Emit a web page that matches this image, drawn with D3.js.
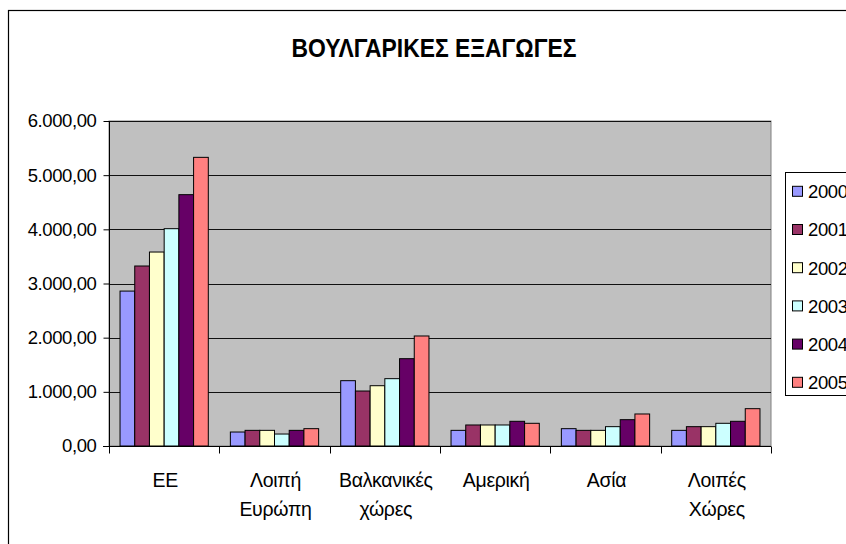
<!DOCTYPE html>
<html>
<head>
<meta charset="utf-8">
<script src="https://cdn.jsdelivr.net/npm/d3@7"></script>
<style>
  html, body { margin: 0; padding: 0; background: #fff; }
  svg { display: block; }
  text { font-family: "Liberation Sans", Arial, sans-serif; fill: #000; }
</style>
</head>
<body>
<svg id="chart" width="846" height="544"></svg>
<script>
const title = "ΒΟΥΛΓΑΡΙΚΕΣ ΕΞΑΓΩΓΕΣ";
const categories = ["ΕΕ", "Λοιπή Ευρώπη", "Βαλκανικές χώρες", "Αμερική", "Ασία", "Λοιπές Χώρες"];
const years = ["2000", "2001", "2002", "2003", "2004", "2005"];
const s2000 = [2860, 258, 1206, 289, 320, 289];
const s2001 = [3323, 289, 1015, 388, 289, 357];
const s2002 = [3581, 289, 1113, 388, 289, 357];
const s2003 = [4012, 221, 1243, 388, 357, 419];
const s2004 = [4640, 289, 1612, 456, 486, 456];
const s2005 = [5329, 320, 2031, 419, 591, 689];
const yTicks = [0, 1000, 2000, 3000, 4000, 5000, 6000];
const colors = ["#9999FF", "#993366", "#FFFFCC", "#CCFFFF", "#660066", "#FF8080"];

const series = [s2000, s2001, s2002, s2003, s2004, s2005];
const svg = d3.select("#chart");

const plot = { left: 109, right: 771, top: 121, bottom: 446 };

const x0 = d3.scaleBand().domain(categories).range([plot.left, plot.right]).paddingInner(0).paddingOuter(0);
const x1 = d3.scaleBand().domain(years).range([0, x0.bandwidth()]).paddingInner(0).paddingOuter(0.75);
const y = d3.scaleLinear().domain([0, 6000]).range([plot.bottom, plot.top]);
const color = d3.scaleOrdinal().domain(years).range(colors);

const gr = d3.formatLocale({ decimal: ",", thousands: ".", grouping: [3], currency: ["", "€"] });
const fmt = gr.format(",.2f");

// outer frame
svg.append("rect").attr("x", 8.5).attr("y", 10.5).attr("width", 900).attr("height", 600)
  .attr("fill", "#fff").attr("stroke", "#000").attr("stroke-width", 1.2);

// title
svg.append("text").attr("x", 434).attr("y", 56.5).attr("text-anchor", "middle")
  .attr("font-size", 25.5).attr("font-weight", "bold")
  .attr("textLength", 285).attr("lengthAdjust", "spacingAndGlyphs")
  .text(title);

// plot background
svg.append("rect").attr("x", plot.left).attr("y", plot.top)
  .attr("width", plot.right - plot.left).attr("height", plot.bottom - plot.top)
  .attr("fill", "#C0C0C0").attr("stroke", "#808080").attr("stroke-width", 1);

// gridlines
svg.append("g").selectAll("line").data(yTicks.filter(d => d > 0)).join("line")
  .attr("x1", plot.left).attr("x2", plot.right)
  .attr("y1", d => Math.round(y(d)) + 0.5).attr("y2", d => Math.round(y(d)) + 0.5)
  .attr("stroke", "#111").attr("stroke-width", 1);

// bars
const groups = svg.append("g").selectAll("g").data(categories).join("g")
  .attr("transform", d => `translate(${x0(d)},0)`);
groups.selectAll("rect").data((c, ci) => years.map((yr, si) => ({ yr, v: series[si][ci] }))).join("rect")
  .attr("x", d => x1(d.yr)).attr("y", d => y(d.v))
  .attr("width", x1.bandwidth()).attr("height", d => y(0) - y(d.v))
  .attr("fill", d => color(d.yr)).attr("stroke", "#000").attr("stroke-width", 1);

// y axis
const yAxis = d3.axisLeft(y).tickValues(yTicks).tickFormat(fmt).tickSize(6).tickPadding(7);
const gy = svg.append("g").attr("transform", `translate(${plot.left + 0.5},0)`).call(yAxis);
gy.select(".domain").attr("stroke", "#000").attr("d", `M0,${plot.top}V${plot.bottom + 6}`);
gy.selectAll(".tick line").attr("stroke", "#000");
gy.selectAll(".tick text").attr("font-size", 18.5).attr("font-family", "'Liberation Sans', Arial, sans-serif")
  .attr("fill", "#000").attr("letter-spacing", "-0.4px");

// x axis
const gx = svg.append("g").attr("transform", `translate(0,${plot.bottom + 0.5})`);
gx.append("line").attr("x1", plot.left - 6).attr("x2", plot.right).attr("y1", 0).attr("y2", 0).attr("stroke", "#000");
const bounds = categories.map(c => x0(c)).concat([x0(categories[categories.length - 1]) + x0.bandwidth()]);
gx.selectAll("line.tk").data(bounds).join("line").attr("class", "tk")
  .attr("x1", d => Math.round(d) + 0.5).attr("x2", d => Math.round(d) + 0.5)
  .attr("y1", 0).attr("y2", 7).attr("stroke", "#000");
const labels = svg.append("g").selectAll("text").data(categories).join("text")
  .attr("x", d => x0(d) + x0.bandwidth() / 2 + 1)
  .attr("y", 486.5).attr("text-anchor", "middle").attr("font-size", 19.5).attr("letter-spacing", "-0.3px");
labels.each(function (d) {
  const parts = d.split(" ");
  const t = d3.select(this);
  parts.forEach((p, i) => {
    t.append("tspan").attr("x", x0(d) + x0.bandwidth() / 2 + 1).attr("dy", i === 0 ? 0 : 29.5).text(p);
  });
});

// legend
const lg = svg.append("g");
lg.append("rect").attr("x", 785.5).attr("y", 172.5).attr("width", 120).attr("height", 223)
  .attr("fill", "#fff").attr("stroke", "#000").attr("stroke-width", 1);
const items = lg.selectAll("g").data(years).join("g")
  .attr("transform", (d, i) => `translate(0,${191.3 + i * 38.2})`);
items.append("rect").attr("x", 792.5).attr("y", -5).attr("width", 10).attr("height", 10)
  .attr("fill", d => color(d)).attr("stroke", "#000").attr("stroke-width", 1);
items.append("text").attr("x", 808).attr("y", 6.8).attr("font-size", 18.5).attr("letter-spacing", "-0.4px").text(d => d);
</script>
</body>
</html>
